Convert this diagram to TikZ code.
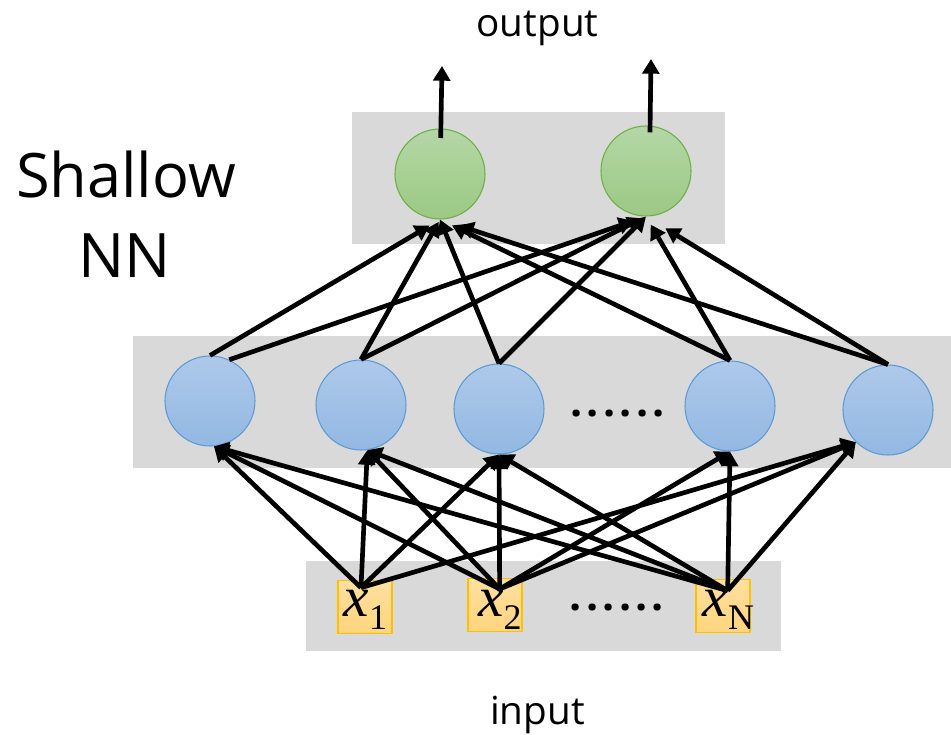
\documentclass[tikz,border=0pt]{standalone}
\usepackage{fontspec}
\setmainfont{Open Sans}
\newfontfamily\tnr{Liberation Serif}
\usetikzlibrary{arrows.meta}
\definecolor{panelgray}{HTML}{D9D9D9}
\definecolor{bluetop}{HTML}{ADC9EA}
\definecolor{bluebot}{HTML}{93B8E2}
\definecolor{blueedge}{HTML}{5B9BD5}
\definecolor{greentop}{HTML}{B4D7A6}
\definecolor{greenbot}{HTML}{9BC983}
\definecolor{greenedge}{HTML}{70AD47}
\definecolor{goldtop}{HTML}{FFE0A0}
\definecolor{goldbot}{HTML}{FFD47E}
\definecolor{goldedge}{HTML}{FFC000}
\newcommand{\dotrow}{.\kern3.2pt.\kern3.2pt.\kern3.2pt.\kern3.2pt.\kern3.2pt.}
\begin{document}
\begin{tikzpicture}[x=0.75pt,y=-0.75pt,
  panelbox/.style={fill=panelgray},
  hid/.style={circle, minimum size=67.5pt, inner sep=0pt, draw=blueedge, line width=0.8pt, top color=bluetop, bottom color=bluebot},
  outn/.style={circle, minimum size=67.5pt, inner sep=0pt, draw=greenedge, line width=0.8pt, top color=greentop, bottom color=greenbot},
  inbox/.style={rectangle, minimum width=40.5pt, minimum height=40pt, inner sep=0pt, draw=goldedge, line width=1pt, top color=goldtop, bottom color=goldbot},
  conn/.style={line width=3.5pt, -{Triangle[length=11pt,width=12.5pt]}},
  xlab/.style={anchor=base, inner sep=0pt, font=\tnr\fontsize{43}{43}\selectfont},
  caption/.style={anchor=base, inner sep=0pt, font=\fontsize{29}{29}\selectfont},
  bigtitle/.style={anchor=base, inner sep=0pt, font=\fontsize{46}{46}\selectfont},
  dotsnode/.style={anchor=base, inner sep=0pt, font=\bfseries\fontsize{32}{32}\selectfont}
]
\useasboundingbox (0,0) rectangle (951,735);
% panels
\fill[panelbox] (352,112) rectangle (725,244);
\fill[panelbox] (133,336) rectangle (951,468);
\fill[panelbox] (306,561) rectangle (781,651);
% output nodes
\node[outn] (o1) at (440,174) {};
\node[outn] (o2) at (646,171) {};
% hidden nodes
\node[hid] (h1) at (210,401) {};
\node[hid] (h2) at (361,405) {};
\node[hid] (h3) at (499,409) {};
\node[hid] (h4) at (730,406) {};
\node[hid] (h5) at (888,410) {};
\node[dotsnode] (hdots) at (617.7,416) {\dotrow};
% input nodes
\node[inbox] (x1) at (365,607) {};
\node[inbox] (x2) at (495,605) {};
\node[inbox] (xN) at (723,606) {};
\node[xlab] (x1t) at (365.5,616) {\itshape x\raisebox{-10pt}{\upshape\fontsize{27}{27}\selectfont 1}};
\node[xlab] (x2t) at (500,616) {\itshape x\raisebox{-10pt}{\upshape\fontsize{27}{27}\selectfont 2}};
\node[xlab] (xNt) at (728.5,616) {\itshape x\raisebox{-10pt}{\upshape\fontsize{27}{27}\selectfont N}};
\node[dotsnode] (idots) at (617,610) {\dotrow};
% texts
\node[caption] (outlab) at (537.5,36.7) {output};
\node[caption] (inlab) at (537.5,724) {input};
\node[bigtitle] (t1) at (126,198) {Shallow};
\node[bigtitle] (t2) at (124.5,277) {NN};
% input start points
\coordinate (s1) at ([xshift=-3pt,yshift=-6pt]x1.north);
\coordinate (s2) at ([xshift=3.5pt,yshift=-8.5pt]x2.north);
\coordinate (sN) at ([xshift=3.5pt,yshift=-9pt]xN.north);
% input -> hidden
\foreach \s in {s1,s2,sN}{
  \draw[conn] (\s) -- (h1.-85);
  \draw[conn] (\s) -- (h2.-82);
  \draw[conn] (\s) -- (h3.south);
  \draw[conn] (\s) -- (h5.225);
}
\draw[conn] (s2) -- (h4.south);
\draw[conn] (sN) -- (h4.south);
% hidden -> output
\draw[conn, shorten >=9pt] (h1.north) -- (o1.south);
\draw[conn, shorten >=10pt] (h1.65) -- (o2.south);
\draw[conn, shorten >=2pt] (h2.north) -- (o1.south);
\draw[conn, shorten >=3pt] (h2.north) -- (o2.south);
\draw[conn] (h3.north) -- (o1.south);
\draw[conn] (h3.north) -- (o2.south);
\draw[conn, shorten >=10pt] (h4.north) -- (o1.south);
\draw[conn, shorten >=7pt] (h4.north) -- (o2.south);
\draw[conn, shorten >=15pt] (h5.north) -- (o1.south);
\draw[conn, shorten >=17pt] (h5.north) -- (o2.south);
% outputs
\coordinate (e1) at (442,66);
\coordinate (e2) at (651,59);
\draw[conn] ([xshift=0.5pt,yshift=27pt]o1.center) -- (e1);
\draw[conn] ([xshift=3pt,yshift=29pt]o2.center) -- (e2);
\end{tikzpicture}
\end{document}
